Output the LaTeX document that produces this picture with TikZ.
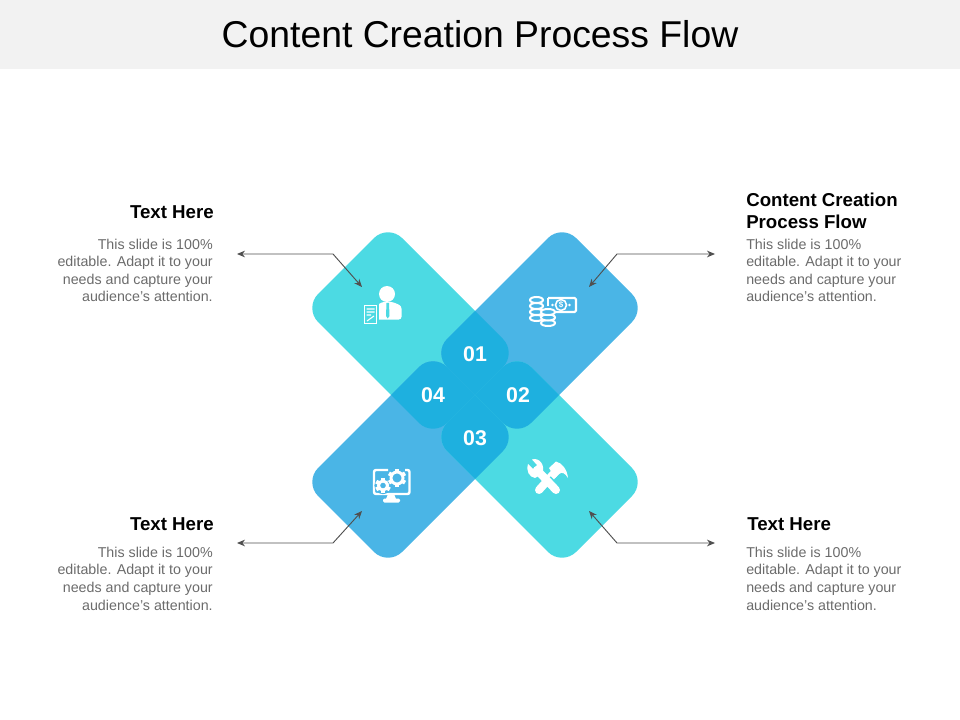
\documentclass[tikz,border=0pt]{standalone}
\usepackage{fontspec}
\setmainfont{Liberation Sans}
\usetikzlibrary{arrows.meta}
\definecolor{bandgray}{HTML}{F2F2F2}
\definecolor{aquaband}{HTML}{4CDAE3}
\definecolor{blueband}{HTML}{4AB5E6}
\definecolor{overlapblue}{HTML}{1EB0DF}
\definecolor{bodygray}{HTML}{6B6B6B}
\definecolor{leadgray}{HTML}{505050}
\def\pathTL{[rounded corners=15pt] (388,224) -- (517,353) -- (433,437) -- (304,308) -- cycle}
\def\pathTR{[rounded corners=15pt] (562,224) -- (646,308) -- (517,437) -- (433,353) -- cycle}
\def\pathBL{[rounded corners=15pt] (304,482) -- (433,353) -- (517,437) -- (388,566) -- cycle}
\def\pathBR{[rounded corners=15pt] (433,437) -- (517,353) -- (646,482) -- (562,566) -- cycle}
\tikzset{
  heading/.style={font=\fontsize{14}{16.5}\selectfont\bfseries, text=black, inner sep=0pt},
  bodytext/.style={font=\fontsize{10.7}{13.2}\selectfont, text=bodygray, inner sep=0pt},
  number/.style={font=\fontsize{16}{18}\selectfont\bfseries, text=white, inner sep=0pt},
  leader/.style={draw=leadgray, line width=0.7pt, {Stealth[length=6pt,width=5pt]}-{Stealth[length=6pt,width=5pt]}},
}
\begin{document}
\begin{tikzpicture}[x=0.75pt,y=-0.75pt]
\useasboundingbox (0,0) rectangle (960,720);
\fill[bandgray] (0,0) rectangle (960,69);
\node[font=\fontsize{28}{32}\selectfont, text=black, inner sep=0pt] (title) at (480,34) {Content Creation Process Flow};

% bands
\fill[aquaband] \pathTL;
\fill[blueband] \pathTR;
\fill[blueband] \pathBL;
\fill[aquaband] \pathBR;
\begin{scope}
\clip \pathTL;
\fill[overlapblue] \pathTR;
\fill[overlapblue] \pathBL;
\end{scope}
\begin{scope}
\clip \pathBR;
\fill[overlapblue] \pathTR;
\fill[overlapblue] \pathBL;
\end{scope}
\node[number] (num1) at (475,354) {01};
\node[number] (num2) at (518,395.5) {02};
\node[number] (num3) at (475,438) {03};
\node[number] (num4) at (433,395.5) {04};

% person icon
\fill[white] (387,294) circle (8);
\fill[white, rounded corners=2pt] (376,319.5) -- (376,306) -- (382,302) -- (393,302) -- (401.5,306) -- (401.5,319.5) -- cycle;
\fill[aquaband] (386.5,303) -- (389,303) -- (389.5,316) -- (387.7,318.5) -- (386,316) -- cycle;
\fill[aquaband] (362.5,303.5) rectangle (378.5,325.5);
\draw[white, line width=0.9pt] (364.5,305.5) rectangle (376.5,323.5);
\draw[white, line width=0.8pt] (366.5,309) -- (374.5,309) (366.5,312) -- (374.5,312) (366.5,315) -- (371,315) (367,321) -- (374,316);

% money icon
\draw[white, line width=1.6pt, rounded corners=1pt] (548,298) -- (576,298) -- (576,312) -- (556,312);
\draw[white, line width=1.6pt] (548,298) -- (548,306);
\draw[white, line width=1.2pt] (561,305) circle (5.5);
\node[font=\fontsize{6}{6}\selectfont\bfseries, text=white, inner sep=0pt] (dollar) at (561,305) {\$};
\fill[white] (552.5,305) circle (1.3) (569.5,305) circle (1.3);
\foreach \ypos in {318,312,306,300}
  \draw[white, line width=1.5pt, fill=blueband] (530,\ypos) .. controls (530,\ypos+4) and (543,\ypos+4) .. (543,\ypos) .. controls (543,\ypos-4) and (530,\ypos-4) .. (530,\ypos) -- cycle;
\foreach \ypos in {323,317.5,312}
  \draw[white, line width=1.5pt, fill=blueband] (541,\ypos) .. controls (541,\ypos+4) and (555,\ypos+4) .. (555,\ypos) .. controls (555,\ypos-4) and (541,\ypos-4) .. (541,\ypos) -- cycle;

% monitor icon
\draw[white, line width=1.8pt, rounded corners=1.5pt] (388,470) -- (374,470) -- (374,494) -- (409.5,494) -- (409.5,470) -- (405,470);
\fill[white] (388,494) -- (394,494) -- (396,499) -- (386,499) -- cycle;
\fill[white, rounded corners=1pt] (383,498.5) rectangle (400,502.5);
\foreach \gx/\gy/\gr in {383/485.5/6,397/478/7.5}{
  \fill[blueband] (\gx,\gy) circle (\gr+2.6);
  \foreach \ang in {0,60,...,300}
    \fill[white, rotate around={\ang:(\gx,\gy)}] (\gx-2,\gy-\gr-1.8) rectangle (\gx+2,\gy-\gr+1);
  \draw[white, line width=2.2pt] (\gx,\gy) circle (\gr-1.5);
}

% tools icon
\draw[white, line width=6pt, line cap=round] (539,490) -- (557,470);
\fill[white] (549,468) -- (556,461.5) .. controls (562,463) and (567,469) .. (568,478) .. controls (565,473) and (562,471.5) .. (559,474) -- (555,478) -- cycle;
\draw[aquaband, line width=1.5pt] (550,477) -- (554,481);
\draw[white, line width=6pt, line cap=round] (537,470) -- (556,490);
\fill[white] (528,464) -- (533,469) -- (537,465) -- (532,459.5) .. controls (539,457) and (546,465) .. (542,474) -- (535,478) .. controls (529,477) and (526,471) .. (528,464) -- cycle;

% captions
\node[heading, anchor=east] (headTL) at (214,212) {Text Here};
\node[bodytext, anchor=east, align=right] (textTL) at (213,270.5) {This slide is 100\%\\editable. Adapt it to your\\needs and capture your\\audience's attention.};
\node[heading, anchor=west, align=left] (headTR) at (746,211) {Content Creation\\Process Flow};
\node[bodytext, anchor=west, align=left] (textTR) at (746,270.5) {This slide is 100\%\\editable. Adapt it to your\\needs and capture your\\audience's attention.};
\node[heading, anchor=east] (headBL) at (214,524) {Text Here};
\node[bodytext, anchor=east, align=right] (textBL) at (213,578.5) {This slide is 100\%\\editable. Adapt it to your\\needs and capture your\\audience's attention.};
\node[heading, anchor=west] (headBR) at (747,524) {Text Here};
\node[bodytext, anchor=west, align=left] (textBR) at (746,578.5) {This slide is 100\%\\editable. Adapt it to your\\needs and capture your\\audience's attention.};

% leaders
\coordinate (freeTL) at (237,254);
\coordinate (bendTL) at (333,254);
\coordinate (tipTL) at (362,287);
\coordinate (freeTR) at (715,254);
\coordinate (bendTR) at (617,254);
\coordinate (tipTR) at (589,287);
\coordinate (freeBL) at (237,543);
\coordinate (bendBL) at (333,543);
\coordinate (tipBL) at (362,511);
\coordinate (freeBR) at (715,543);
\coordinate (bendBR) at (617,543);
\coordinate (tipBR) at (589,511);
\draw[leader] (freeTL) -- (bendTL) -- (tipTL);
\draw[leader] (freeTR) -- (bendTR) -- (tipTR);
\draw[leader] (freeBL) -- (bendBL) -- (tipBL);
\draw[leader] (freeBR) -- (bendBR) -- (tipBR);
\end{tikzpicture}
\end{document}
